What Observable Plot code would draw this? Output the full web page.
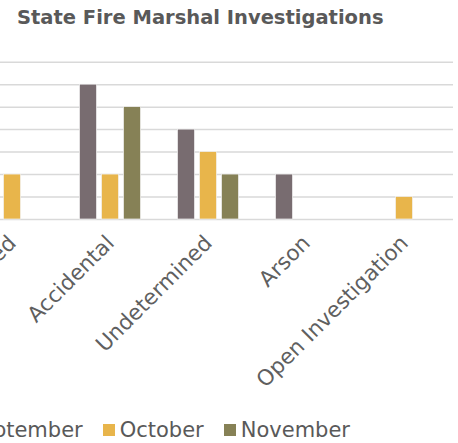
<!DOCTYPE html>
<html>
<head>
<meta charset="utf-8">
<script src="https://cdn.jsdelivr.net/npm/d3@7"></script>
<script src="https://cdn.jsdelivr.net/npm/@observablehq/plot@0.6"></script>
<style>
  html, body { margin: 0; padding: 0; background: #fff; }
  #wrap { position: relative; width: 458px; height: 443px; overflow: hidden; background: #fff;
          font-family: "DejaVu Sans", sans-serif; color: #595959; }
  #title { position: absolute; left: 17px; top: 6px; font-size: 19.5px; font-weight: bold; white-space: nowrap; }
  #chart { position: absolute; left: -100px; top: 0; }
  #legend { position: absolute; right: 108px; top: 418px; display: flex; align-items: center;
            font-size: 21px; white-space: nowrap; }
  .item { display: flex; align-items: center; margin-left: 20px; }
  .sw { width: 12px; height: 12px; margin-right: 5px; }
</style>
</head>
<body>
<div id="wrap">
  <div id="title">State Fire Marshal Investigations</div>
  <div id="chart"></div>
  <div id="legend"></div>
</div>
<script>
const categories = ["Unfounded", "Accidental", "Undetermined", "Arson", "Open Investigation"];
const months = ["September", "October", "November"];
const colors = ["#786c70", "#e8b54b", "#868156"];
const september = [2, 6, 4, 2, 0];
const october = [2, 2, 3, 0, 1];
const november = [0, 5, 2, 0, 0];
const yTicks = [0, 1, 2, 3, 4, 5, 6, 7];

const series = [september, october, november];
const data = [];
categories.forEach((c, i) => months.forEach((m, j) => data.push({category: c, month: m, value: series[j][i]})));

const chart = Plot.plot({
  width: 558,
  height: 400,
  marginLeft: 62.5,
  marginRight: 5.5,
  marginTop: 61.7,
  marginBottom: 181,
  style: {fontFamily: "DejaVu Sans, sans-serif", color: "#5f5f5f", background: "transparent"},
  fx: {domain: categories, padding: 0, label: null},
  x: {domain: months, paddingInner: 0.227, paddingOuter: 0.84, axis: null},
  y: {domain: [0, 7], ticks: yTicks, label: null, axis: null},
  color: {domain: months, range: colors},
  marks: [
    Plot.gridY(yTicks, {stroke: "#d9d9d9", strokeOpacity: 1, strokeWidth: 1.5}),
    Plot.barY(data.filter(d => d.value > 0), {fx: "category", x: "month", y: "value", fill: "month", inset: 0, stroke: "#f2f2f2", strokeWidth: 0.7}),
    Plot.axisFx({anchor: "bottom", tickRotate: -45, tickSize: 0, tickPadding: 20, fontSize: 21.5, label: null})
  ]
});
document.getElementById("chart").appendChild(chart);

const legend = document.getElementById("legend");
months.forEach((m, j) => {
  const it = document.createElement("div");
  it.className = "item";
  const sw = document.createElement("div");
  sw.className = "sw";
  sw.style.background = colors[j];
  const tx = document.createElement("span");
  tx.textContent = m;
  it.appendChild(sw); it.appendChild(tx);
  legend.appendChild(it);
});
</script>
</body>
</html>
